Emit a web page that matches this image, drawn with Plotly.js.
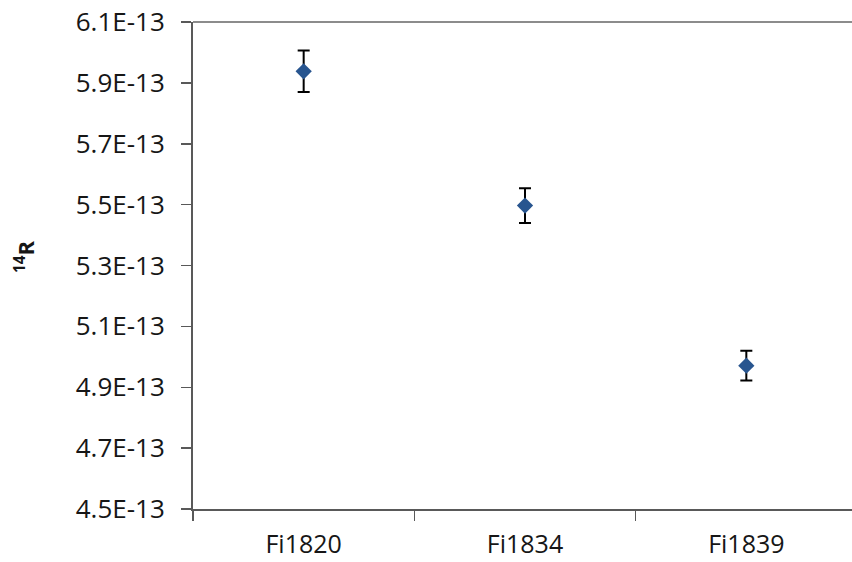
<!DOCTYPE html>
<html>
<head>
<meta charset="utf-8">
<script src="https://cdn.plot.ly/plotly-3.0.1.min.js"></script>
<style>
  html, body { margin: 0; padding: 0; background: #ffffff; overflow: hidden; }
  #chart { width: 857px; height: 562px; }
</style>
</head>
<body>
<div id="chart"></div>
<script>
// Samples and their measured 14C ratio with 1-sigma uncertainty
const samples = ["Fi1820", "Fi1834", "Fi1839"];
const ratio14 = [5.938e-13, 5.497e-13, 4.971e-13];
const ratioErr = [0.068e-13, 0.057e-13, 0.049e-13];

// Y axis ticks (Excel-style scientific labels)
const yTickVals = [4.5e-13, 4.7e-13, 4.9e-13, 5.1e-13, 5.3e-13, 5.5e-13, 5.7e-13, 5.9e-13, 6.1e-13];
const yTickText = ["4.5E-13", "4.7E-13", "4.9E-13", "5.1E-13", "5.3E-13", "5.5E-13", "5.7E-13", "5.9E-13", "6.1E-13"];

const yTitle = "<b><sup>14</sup>R</b>";

const fontFamily = "'Open Sans', 'Noto Sans', sans-serif";
const labelFont = { family: fontFamily, size: 26, color: "#161616" };
const xLabelFont = { family: fontFamily, size: 25, color: "#161616" };
const axisColor = "#595959";

const trace = {
  type: "scatter",
  mode: "markers",
  x: samples,
  y: ratio14,
  error_y: {
    type: "data",
    array: ratioErr,
    visible: true,
    color: "#000000",
    thickness: 2,
    width: 6
  },
  marker: { symbol: "diamond", size: 12.5, color: "#28558F" },
  hoverinfo: "x+y"
};

const layout = {
  width: 857,
  height: 562,
  margin: { l: 193, r: 0, t: 22, b: 53, pad: 0 },
  paper_bgcolor: "#ffffff",
  plot_bgcolor: "#ffffff",
  showlegend: false,
  xaxis: {
    type: "category",
    categoryorder: "array",
    categoryarray: samples,
    range: [-0.5, 2.5],
    showgrid: false,
    zeroline: false,
    showline: true,
    linecolor: axisColor,
    linewidth: 2,
    ticks: "outside",
    tickson: "boundaries",
    ticklen: 10,
    tickwidth: 1.5,
    tickcolor: axisColor,
    tickfont: xLabelFont,
    ticklabelstandoff: 12,
    automargin: false,
    fixedrange: true
  },
  yaxis: {
    range: [4.5e-13, 6.1e-13],
    tickmode: "array",
    tickvals: yTickVals,
    ticktext: yTickText,
    showgrid: false,
    zeroline: false,
    showline: true,
    linecolor: axisColor,
    linewidth: 2,
    ticks: "outside",
    ticklen: 10,
    tickwidth: 1.5,
    tickcolor: axisColor,
    tickfont: labelFont,
    ticklabelstandoff: 11,
    automargin: false,
    fixedrange: true
  },
  annotations: [{
    // rotated y-axis title, left of the tick labels
    text: yTitle,
    xref: "paper", yref: "paper",
    x: -0.253, y: 0.5175,
    xanchor: "center", yanchor: "middle",
    textangle: -90,
    showarrow: false,
    font: { family: fontFamily, size: 22, color: "#161616" }
  }],
  shapes: [{
    // plot-area top border
    type: "line",
    xref: "paper", yref: "paper",
    x0: 0, x1: 1, y0: 1, y1: 1,
    line: { color: "#8c8c8c", width: 2 }
  }]
};

Plotly.newPlot("chart", [trace], layout, { displayModeBar: false, staticPlot: true });
</script>
</body>
</html>
